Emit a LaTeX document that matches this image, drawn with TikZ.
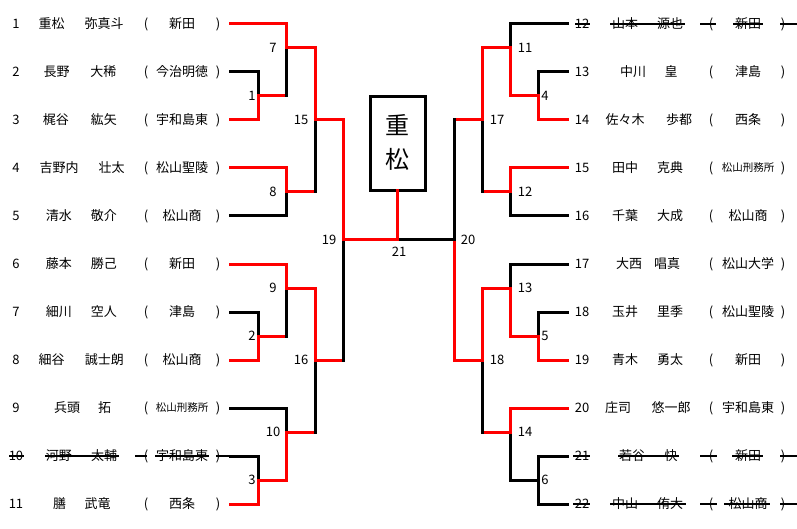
\documentclass[tikz,border=0pt]{standalone}
\usepackage{fontspec}
\setmainfont{Noto Sans CJK JP}
\newcommand\feed[4]{\draw[#3] (#1) -- (#1 -| #2); \draw[#4] (#1 -| #2) -- (#2);}
\newcommand\Lrow[9]{%
  \node[txt] (#2n) at (16,#1+4.7) {#3};
  \node[txt] (#2s) at (#4,#1+4.7) {#5};
  \node[txt] (#2g) at (#6,#1+4.7) {#7};
  \node[txt] (#2o) at (146,#1+4.7) {(};
  \node[txt,#9] (#2c) at (182,#1+4.7) {#8};
  \node[txt] (#2p) at (218,#1+4.7) {)};
  \coordinate (#2e) at (230,#1);}
\newcommand\Rrow[9]{%
  \node[txt] (#2n) at (582,#1+4.7) {#3};
  \node[txt] (#2s) at (#4,#1+4.7) {#5};
  \node[txt] (#2g) at (#6,#1+4.7) {#7};
  \node[txt] (#2o) at (711,#1+4.7) {(};
  \node[txt,#9] (#2c) at (748,#1+4.7) {#8};
  \node[txt] (#2p) at (783,#1+4.7) {)};
  \coordinate (#2e) at (567,#1);}
\begin{document}
\begin{tikzpicture}[x=1pt,y=-1pt,
  txt/.style={anchor=base,inner sep=0pt,font=\fontsize{13}{13}\selectfont},
  nm/.style={},
  sm/.style={font=\fontsize{10.5}{10.5}\selectfont,yshift=0.8pt},
  lbl/.style={anchor=base,inner sep=0pt,font=\fontsize{13}{13}\selectfont},
  win/.style={draw=red,line width=3pt,line cap=rect},
  los/.style={draw=black,line width=3pt,line cap=rect},
  strike/.style={draw=black,line width=2.2pt}]
\useasboundingbox (0,0) rectangle (797,529);

% left players
\Lrow{24}{L1}{1}{51.7}{重松}{104}{弥真斗}{新田}{nm}
\Lrow{72}{L2}{2}{56.7}{長野}{103.3}{大稀}{今治明徳}{nm}
\Lrow{120}{L3}{3}{55.8}{梶谷}{103.8}{紘矢}{宇和島東}{nm}
\Lrow{168}{L4}{4}{59}{吉野内}{111.7}{壮太}{松山聖陵}{nm}
\Lrow{216}{L5}{5}{58.8}{清水}{103.8}{敬介}{松山商}{nm}
\Lrow{264}{L6}{6}{58.8}{藤本}{103.8}{勝己}{新田}{nm}
\Lrow{312}{L7}{7}{58.8}{細川}{103.8}{空人}{津島}{nm}
\Lrow{360}{L8}{8}{51.7}{細谷}{104.3}{誠士朗}{松山商}{nm}
\Lrow{408}{L9}{9}{67}{兵頭}{104.5}{拓}{松山刑務所}{sm}
\Lrow{456}{L10}{10}{58.8}{河野}{104}{太輔}{宇和島東}{nm}
\Lrow{504}{L11}{11}{59.5}{膳}{97.5}{武竜}{西条}{nm}

% right players
\Rrow{24}{R12}{12}{625}{山本}{670}{源也}{新田}{nm}
\Rrow{72}{R13}{13}{633}{中川}{671}{皇}{津島}{nm}
\Rrow{120}{R14}{14}{625}{佐々木}{679}{歩都}{西条}{nm}
\Rrow{168}{R15}{15}{625}{田中}{670}{克典}{松山刑務所}{sm}
\Rrow{216}{R16}{16}{625}{千葉}{670}{大成}{松山商}{nm}
\Rrow{264}{R17}{17}{629}{大西}{667}{唱真}{松山大学}{nm}
\Rrow{312}{R18}{18}{625}{玉井}{670}{里季}{松山聖陵}{nm}
\Rrow{360}{R19}{19}{625}{青木}{670}{勇太}{新田}{nm}
\Rrow{408}{R20}{20}{618}{庄司}{671}{悠一郎}{宇和島東}{nm}
\Rrow{456}{R21}{21}{632}{若谷}{671}{快}{新田}{nm}
\Rrow{504}{R22}{22}{625}{中山}{670}{侑大}{松山商}{nm}

% match junctions
\coordinate (m1) at (258,96);  \coordinate (m2) at (258,336); \coordinate (m3) at (258,480);
\coordinate (m7) at (286,48);  \coordinate (m8) at (286,192); \coordinate (m9) at (286,288); \coordinate (m10) at (286,432);
\coordinate (m15) at (315,120); \coordinate (m16) at (315,360);
\coordinate (m19) at (343,240);
\coordinate (m21) at (397.5,240);
\coordinate (m4) at (538,96);  \coordinate (m5) at (538,336); \coordinate (m6) at (538,480);
\coordinate (m11) at (510,48); \coordinate (m12) at (510,192); \coordinate (m13) at (510,288); \coordinate (m14) at (510,432);
\coordinate (m17) at (482,120); \coordinate (m18) at (482,360);
\coordinate (m20) at (454,240);

% left bracket
\feed{L2e}{m1}{los}{los}
\feed{L3e}{m1}{win}{win}
\feed{m1}{m7}{win}{los}
\feed{L1e}{m7}{win}{win}
\feed{L5e}{m8}{los}{los}
\feed{L4e}{m8}{win}{win}
\feed{m8}{m15}{win}{los}
\feed{m7}{m15}{win}{win}
\feed{L7e}{m2}{los}{los}
\feed{L8e}{m2}{win}{win}
\feed{m2}{m9}{win}{los}
\feed{L6e}{m9}{win}{win}
\feed{L9e}{m10}{los}{los}
\feed{L10e}{m3}{los}{los}
\feed{L11e}{m3}{win}{win}
\feed{m3}{m10}{win}{win}
\feed{m10}{m16}{win}{los}
\feed{m9}{m16}{win}{win}
\feed{m16}{m19}{win}{los}
\feed{m15}{m19}{win}{win}

% right bracket
\feed{R12e}{m11}{los}{los}
\feed{R13e}{m4}{los}{los}
\feed{R14e}{m4}{win}{win}
\feed{m4}{m11}{win}{win}
\feed{R16e}{m12}{los}{los}
\feed{R15e}{m12}{win}{win}
\feed{m12}{m17}{win}{los}
\feed{m11}{m17}{win}{win}
\feed{R17e}{m13}{los}{los}
\feed{R18e}{m5}{los}{los}
\feed{R19e}{m5}{win}{win}
\feed{m5}{m13}{win}{win}
\feed{R21e}{m6}{los}{los}
\feed{R22e}{m6}{los}{los}
\feed{m6}{m14}{los}{los}
\feed{R20e}{m14}{win}{win}
\feed{m14}{m18}{win}{los}
\feed{m13}{m18}{win}{win}
\feed{m17}{m20}{win}{los}
\feed{m18}{m20}{win}{win}

% final
\node[draw,line width=3pt,minimum width=55pt,minimum height=94pt,inner sep=0pt,outer sep=0pt] (box) at (397.5,144) {};
\node[anchor=base,inner sep=0pt,font=\fontsize{24}{24}\selectfont] (ch1) at (397.5,135) {重};
\node[anchor=base,inner sep=0pt,font=\fontsize{24}{24}\selectfont] (ch2) at (397.5,169) {松};
\draw[los] (m20) -- (m21);
\draw[win] (m19) -- (m21);
\draw[win] (box.south) -- (box.south |- m21);

% match labels
\node[lbl] (n7) at (273,48+4.7) {7};
\node[lbl] (n1) at (252,96+4.7) {1};
\node[lbl] (n15) at (301,120+4.7) {15};
\node[lbl] (n8) at (273,192+4.7) {8};
\node[lbl] (n19) at (329,240+4.7) {19};
\node[lbl] (n9) at (273,288+4.7) {9};
\node[lbl] (n2) at (252,336+4.7) {2};
\node[lbl] (n16) at (301,360+4.7) {16};
\node[lbl] (n10) at (273,432+4.7) {10};
\node[lbl] (n3) at (252,480+4.7) {3};
\node[lbl] (n21) at (399,252+4.7) {21};
\node[lbl] (n20) at (468,240+4.7) {20};
\node[lbl] (n17) at (497,120+4.7) {17};
\node[lbl] (n18) at (497,360+4.7) {18};
\node[lbl] (n11) at (525,48+4.7) {11};
\node[lbl] (n12) at (525,192+4.7) {12};
\node[lbl] (n13) at (525,288+4.7) {13};
\node[lbl] (n14) at (525,432+4.7) {14};
\node[lbl] (n4) at (545,96+4.7) {4};
\node[lbl] (n5) at (545,336+4.7) {5};
\node[lbl] (n6) at (545,480+4.7) {6};

% strikethroughs
\foreach \a/\b in {9/24,45/119,135/147,155/209,216/230}
  \draw[strike] (\a,456) -- (\b,456);
\foreach \a/\b in {575/590,610/685,700/716,733/763,780/797}
  \draw[strike] (\a,24) -- (\b,24);
\foreach \a/\b in {573/590,618/679,700/717,732/763,780/797}
  \draw[strike] (\a,456) -- (\b,456);
\foreach \a/\b in {573/590,610/686,700/717,724/770,780/797}
  \draw[strike] (\a,504) -- (\b,504);
\end{tikzpicture}
\end{document}
